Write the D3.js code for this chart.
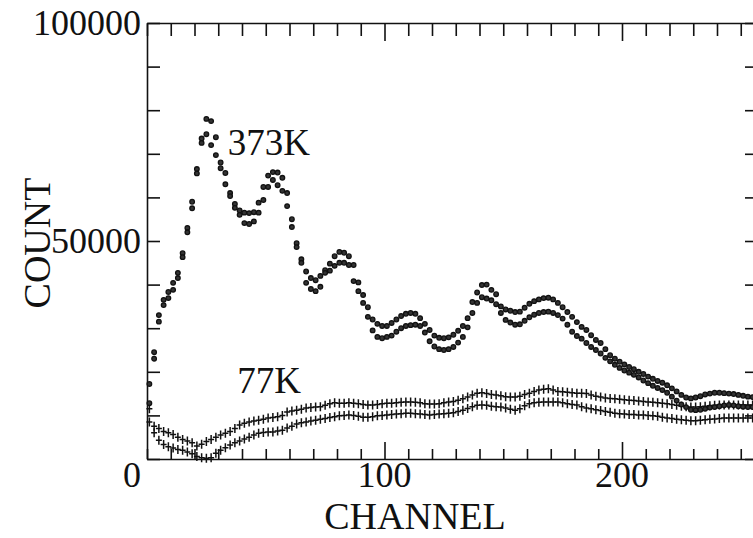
<!DOCTYPE html>
<html>
<head>
<meta charset="utf-8">
<script src="https://cdn.jsdelivr.net/npm/d3@7"></script>
<style>
body { margin: 0; background: #fff; }
svg text { font-family: "Liberation Serif", "Times New Roman", serif; fill: #111; }
</style>
</head>
<body>
<div id="chart"></div>
<script>
// spectra were recorded on every second channel
var channels = d3.range(1, 256, 2);

// 373K, two runs (dots)
var hotUpper = [
    17200, 24500, 33000, 36500, 38300, 40400, 42700, 47200, 53000, 59000,
    66500, 73500, 78000, 77500, 73800, 68000, 65600, 61000, 58500, 57000,
    56500, 56400, 56600, 58800, 62400, 65000, 65800, 65700, 64500, 61000,
    55000, 49500, 45800, 43000, 41500, 41000, 42000, 43300, 44800, 46500,
    47500, 47300, 46500, 44500, 40500, 37600, 34800, 32000, 31000, 30500,
    30500, 31200, 32000, 32800, 33300, 33500, 33300, 32300, 31000, 29600,
    28300, 27800, 27700, 27900, 28500, 29400, 30500, 32300, 36000, 38200,
    39900, 40000, 38800, 37800, 35000, 34300, 34000, 33700, 33800, 34700,
    35600, 36200, 36600, 36900, 37000, 36600, 35800, 34800, 33700, 32600,
    31400, 30300, 29600, 28400, 27300, 26600, 25200, 23800, 23000, 22300,
    21700, 21100, 20600, 20000, 19500, 18900, 18400, 17900, 17500, 16900,
    16200, 15500, 14700, 14100, 13900, 14100, 14400, 14800, 15000, 15200,
    15200, 15100, 15000, 14900, 14700, 14500, 14300, 14200
];
var hotLower = [
    12800, 23000, 31500, 35300, 36900, 38800, 41500, 46300, 52000, 57500,
    65500, 72500, 74500, 72000, 69700, 66700, 63000, 60300, 57600, 56000,
    54100, 53900, 54500, 56500, 59400, 62400, 64000, 62800, 61500, 58000,
    53200, 48600, 45000, 40400, 39000, 38500, 39500, 42700, 43200, 44300,
    45000, 45000, 44500, 40800, 38500, 35800, 32600, 29500, 28000, 27700,
    28000, 28300, 29200, 30000, 30500, 30700, 30800, 30500, 29000, 27000,
    25800, 25200, 25000, 25200, 25700, 26700, 28000, 30200, 33500, 35800,
    37100, 36800, 36400, 35500, 33500, 31900, 31300, 30800, 30900, 31700,
    32500, 33100, 33500, 33700, 33800, 33500, 33000, 32200, 30800, 29200,
    28200, 27600, 26600, 25700, 25000, 24200, 23200, 22400, 21600, 20900,
    20300, 19800, 19300, 18700, 18000, 17400, 16800, 16300, 15800, 15200,
    14300, 13400, 12500, 11900, 11300, 11200, 11300, 11500, 11800, 11900,
    12100, 12300, 12400, 12300, 12100, 12000, 11900, 11900
];

// 77K, two runs (crosses)
var coldUpper = [
    11500, 7500, 7000, 6300, 6000, 5600, 5000, 4500, 4100, 3700,
    3000, 3400, 4000, 4500, 5000, 5500, 5900, 6300, 7000, 7800,
    8200, 8500, 8700, 8900, 9100, 9400, 9500, 9700, 10000, 10800,
    11000, 11200, 11400, 11700, 11800, 11900, 12000, 12300, 12700, 12900,
    12800, 12800, 12900, 12800, 12700, 12500, 12400, 12400, 12500, 12700,
    12800, 12800, 12900, 13000, 13100, 13100, 13000, 12900, 12700, 12600,
    12600, 12700, 12900, 13100, 13200, 13500, 13800, 14200, 14700, 15100,
    15200, 15000, 14800, 14700, 14500, 14300, 14200, 14200, 14400, 14800,
    15100, 15500, 15800, 16000, 16100, 15800, 15500, 15400, 15300, 15200,
    15100, 15100, 15000, 14700, 14400, 14200, 14000, 13900, 13800, 13700,
    13600, 13500, 13400, 13300, 13200, 13100, 13000, 12900, 12800, 12700,
    12500, 12300, 12100, 12000, 11900, 11900, 12000, 12100, 12200, 12300,
    12400, 12400, 12400, 12400, 12400, 12400, 12400, 12400
];
var coldLower = [
    8500, 6000, 4300, 3300, 2800, 2500, 2200, 2000, 1600, 1200,
    600, 300, 200, 300, 1300, 2000, 2600, 3200, 3700, 4100,
    4600, 5000, 5500, 5900, 6100, 6200, 6200, 6400, 6600, 7100,
    7500, 8000, 8300, 8500, 8700, 8900, 9100, 9300, 9500, 9700,
    9900, 10000, 10100, 10000, 9800, 9600, 9600, 9700, 9900, 10000,
    10100, 10200, 10300, 10400, 10500, 10500, 10400, 10300, 10200, 10100,
    10200, 10300, 10400, 10500, 10600, 10900, 11200, 11600, 12000, 12300,
    12400, 12300, 12100, 12000, 11900, 11700, 11400, 11200, 11500, 12200,
    12700, 12900, 13000, 13100, 13100, 13100, 13100, 12900, 12700, 12500,
    12400, 12000, 11700, 11500, 11300, 11100, 10900, 10700, 10500, 10400,
    10300, 10200, 10200, 10100, 10100, 10000, 9900, 9800, 9600, 9400,
    9300, 9100, 9000, 8900, 8800, 8800, 8900, 9000, 9100, 9200,
    9300, 9400, 9400, 9400, 9400, 9400, 9400, 9400
];

var yTickLabels = [0, 50000, 100000];
var xTickLabels = [100, 200];
var seriesLabels = [
    { text: '373K', channel: 34, count: 69700 },
    { text: '77K', channel: 38, count: 15100 }
];

var svgWidth = 753, svgHeight = 538;
var margin = { top: 23, left: 147 };
var chartWidth = 608, chartHeight = 436;
var ink = '#111';

var x = d3.scaleLinear().domain([0, 256]).range([0, 608]);
var y = d3.scaleLinear().domain([0, 100000]).range([chartHeight, 0]);

var svg = d3.select('#chart').append('svg')
    .attr('width', svgWidth)
    .attr('height', svgHeight)
    .append('g')
    .attr('transform', 'translate(' + margin.left + ',' + margin.top + ')');

function addFrame(svg) {
    var xTicks = d3.range(0, 257, 10), yTicks = d3.range(0, 100001, 10000);
    var major = function (d) { return d > 0 && d % 100 === 0; };

    var bottom = svg.append('g')
        .attr('transform', 'translate(0,' + chartHeight + ')')
        .call(d3.axisBottom(x).tickValues(xTicks).tickSizeInner(-10).tickSizeOuter(0).tickFormat(''));
    bottom.selectAll('.tick line').attr('y2', function (d) { return major(d) ? -17 : -10; });

    var top = svg.append('g')
        .call(d3.axisTop(x).tickValues(xTicks).tickSizeInner(-13).tickSizeOuter(0).tickFormat(''));
    top.selectAll('.tick line').attr('y2', function (d) { return major(d) ? 18 : 13; });

    svg.append('g')
        .call(d3.axisLeft(y).tickValues(yTicks).tickSizeInner(-13).tickSizeOuter(0).tickFormat(''));
    svg.append('g')
        .attr('transform', 'translate(' + chartWidth + ',0)')
        .call(d3.axisRight(y).tickValues(yTicks).tickSizeInner(-10).tickSizeOuter(0).tickFormat(''));

    svg.selectAll('.domain, .tick line')
        .attr('stroke', ink)
        .attr('stroke-width', 1.6);

    svg.append('g').selectAll('text')
        .data(yTickLabels)
        .enter().append('text')
        .attr('x', -6)
        .attr('y', function (d) { return d === 0 ? y(d) + 28 : y(d) + 12; })
        .attr('text-anchor', 'end')
        .style('font-size', '36px')
        .text(function (d) { return d; });

    svg.append('g').selectAll('text')
        .data(xTickLabels)
        .enter().append('text')
        .attr('x', function (d) { return x(d); })
        .attr('y', chartHeight + 28)
        .attr('text-anchor', 'middle')
        .style('font-size', '36px')
        .text(function (d) { return d; });

    svg.append('text')
        .attr('x', 415 - margin.left)
        .attr('y', chartHeight + 70)
        .attr('text-anchor', 'middle')
        .style('font-size', '38px')
        .text('CHANNEL');

    svg.append('text')
        .attr('transform', 'translate(' + (50 - margin.left) + ',' + (243 - margin.top) + ') rotate(-90)')
        .attr('text-anchor', 'middle')
        .style('font-size', '38px')
        .text('COUNT');
}

function drawDots(svg, values) {
    svg.append('g').selectAll('circle')
        .data(values)
        .enter().append('circle')
        .attr('cx', function (d, i) { return x(channels[i]); })
        .attr('cy', function (d) { return y(d); })
        .attr('r', 2.3)
        .attr('fill', '#333')
        .attr('stroke', ink)
        .attr('stroke-width', 1.3);
}

function drawCrosses(svg, values) {
    svg.append('g').selectAll('path')
        .data(values)
        .enter().append('path')
        .attr('transform', function (d, i) { return 'translate(' + x(channels[i]) + ',' + y(d) + ')'; })
        .attr('d', 'M-3,0H3M0,-4.5V4.5')
        .attr('fill', 'none')
        .attr('stroke', ink)
        .attr('stroke-width', 1.5);
}

addFrame(svg);
drawCrosses(svg, coldUpper);
drawCrosses(svg, coldLower);
drawDots(svg, hotUpper);
drawDots(svg, hotLower);

svg.append('g').selectAll('text')
    .data(seriesLabels)
    .enter().append('text')
    .attr('x', function (d) { return x(d.channel); })
    .attr('y', function (d) { return y(d.count); })
    .style('font-size', '37px')
    .text(function (d) { return d.text; });
</script>
</body>
</html>
